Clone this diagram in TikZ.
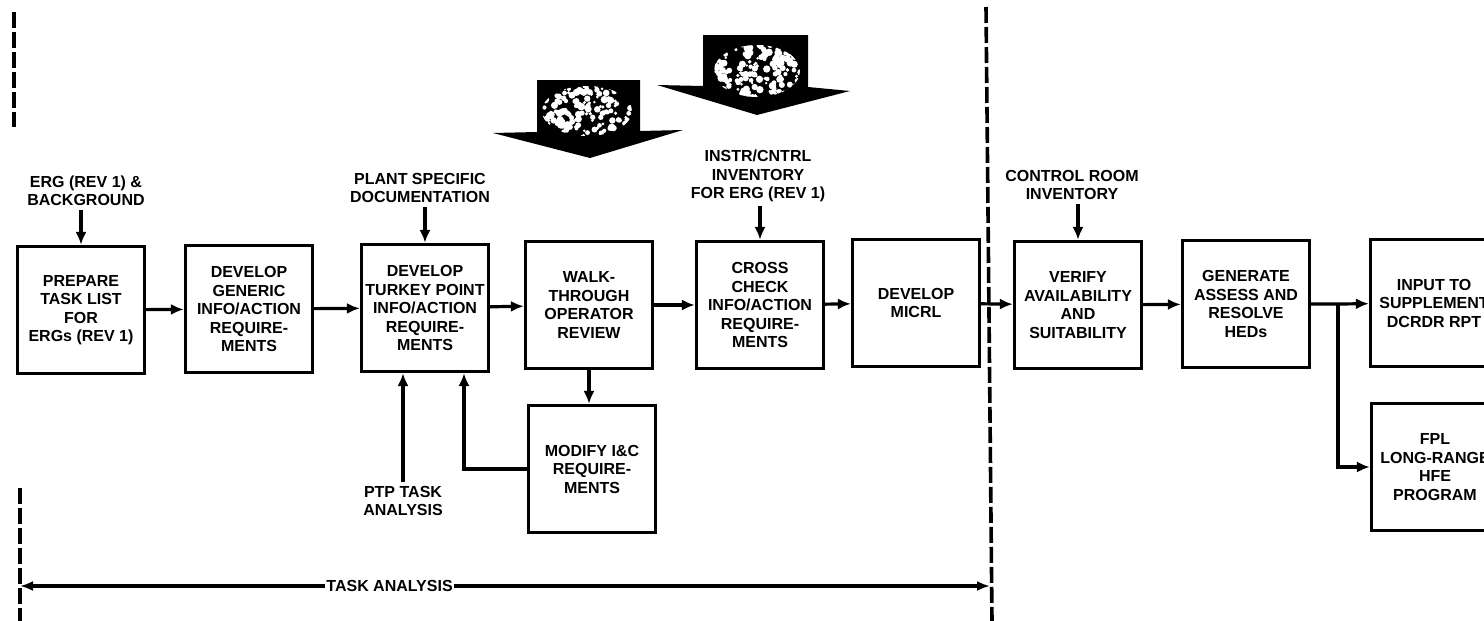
\documentclass[tikz,border=0pt]{standalone}
\usepackage{fontspec}
\setmainfont{Liberation Sans}
\usetikzlibrary{arrows.meta}

\begin{document}
\begin{tikzpicture}[x=1pt,y=-1pt,
  box/.style={draw, line width=3.2pt, minimum width=127pt, minimum height=127pt, align=center, inner sep=2pt},
  lbl/.style={align=center, inner sep=4pt},
  flow/.style={line width=3.2pt, ->, >={Latex[length=13pt,width=11pt]}},
  divider/.style={line width=3.6pt, dash pattern=on 16pt off 4pt},
  font=\bfseries\fontsize{16}{18.5}\selectfont]
\useasboundingbox (0,0) rectangle (1484,621);
\clip (0,0) rectangle (1484,621);

\node[box] (prep) at (81,310) {PREPARE\\TASK LIST\\FOR\\ERGs (REV 1)};
\node[box] (generic) at (249,309) {DEVELOP\\GENERIC\\INFO/ACTION\\REQUIRE-\\MENTS};
\node[box] (turkey) at (425,308) {DEVELOP\\TURKEY POINT\\INFO/ACTION\\REQUIRE-\\MENTS};
\node[box] (walk) at (589,305) {WALK-\\THROUGH\\OPERATOR\\REVIEW};
\node[box] (cross) at (760,305) {CROSS\\CHECK\\INFO/ACTION\\REQUIRE-\\MENTS};
\node[box] (micrl) at (916,303) {DEVELOP\\MICRL};
\node[box] (modify) at (592,469) {MODIFY I\&C\\REQUIRE-\\MENTS};
\node[box] (verify) at (1078,305) {VERIFY\\AVAILABILITY\\AND\\SUITABILITY};
\node[box] (generate) at (1246,304) {GENERATE\\ASSESS AND\\RESOLVE\\HEDs};
\node[box] (input) at (1434,303) {INPUT TO\\SUPPLEMENT\\DCRDR RPT};
\node[box] (fpl) at (1435,467) {FPL\\LONG-RANGE\\HFE\\PROGRAM};

\node[lbl] (ergin) at (86,191) {ERG (REV 1) \&\\BACKGROUND};
\node[lbl] (docin) at (420,188) {PLANT SPECIFIC\\DOCUMENTATION};
\node[lbl] (instrin) at (758,176) {INSTR/CNTRL\\INVENTORY\\FOR ERG (REV 1)};
\node[lbl] (roomin) at (1072,185) {CONTROL ROOM\\INVENTORY};
\node[lbl] (ptpin) at (403,501) {PTP TASK\\ANALYSIS};

\foreach \a/\b in {prep/generic, generic/turkey, turkey/walk, walk/cross, cross/micrl, micrl/verify, verify/generate}
  \draw[flow] (\a) -- (\b);

\draw[flow] (prep.north |- ergin.south) -- (prep.north);
\draw[flow] (turkey.north |- docin.south) -- (turkey.north);
\draw[flow] (cross.north |- instrin.south) -- (cross.north);
\draw[flow] (verify.north |- roomin.south) -- (verify.north);
\draw[flow] (ptpin.north) -- (ptpin.north |- turkey.south);
\draw[flow] (walk.south) -- (walk.south |- modify.north);
\draw[flow] (modify.west) -| ([xshift=39pt]turkey.south);

\coordinate (split) at (1338,304);
\draw[flow] (generate) -- (split) -- (input);
\draw[flow] (split) |- (fpl.west);

% phase borders
\draw[divider] (14,12) -- (14,127);
\draw[divider] (20,488) -- (20,621);
\draw[divider] (986,7) -- (992,621);

\coordinate (tal) at (20,586);
\coordinate (tar) at (990,586);
\draw[line width=3.2pt, <->, >={Latex[length=13pt,width=10pt]}] (tal) -- (tar)
  node[pos=0.381, fill=white, inner sep=1pt] {TASK ANALYSIS};

% block arrows
\fill (537,80) -- (640,80) -- (640,131) -- (683,130) -- (590,158) -- (493,133) -- (537,132) -- cycle;
\begin{scope}
\clip (587,111) ellipse [x radius=45, y radius=25];
\pgfmathsetseed{11}
\foreach \i in {1,...,170}
  \fill[white] (541+rnd*92, 85+rnd*52) circle [radius=1.2+2.6*rnd];
\end{scope}
\fill (703,35) -- (808,35) -- (808,87) -- (850,91) -- (757,115) -- (657,85) -- (703,86) -- cycle;
\begin{scope}
\clip (757,71) ellipse [x radius=43, y radius=26];
\pgfmathsetseed{5}
\foreach \i in {1,...,170}
  \fill[white] (713+rnd*88, 44+rnd*54) circle [radius=1.2+2.6*rnd];
\end{scope}
\end{tikzpicture}
\end{document}
